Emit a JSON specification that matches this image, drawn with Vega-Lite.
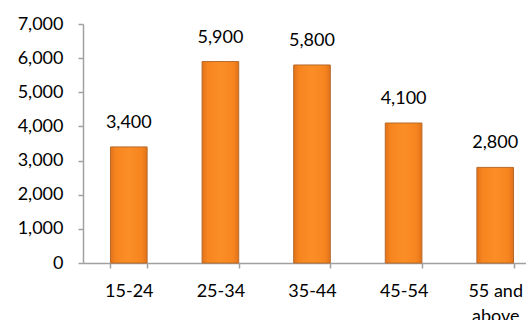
{
  "$schema": "https://vega.github.io/schema/vega-lite/v6.json",
  "width": 443,
  "height": 239,
  "autosize": {"type": "none"},
  "padding": {"left": 83, "top": 24, "right": 0, "bottom": 57},
  "background": "white",
  "config": {"view": {"stroke": null}, "font": "Lato"},
  "data": {
    "values": [
      {"age": "15-24", "value": 3400},
      {"age": "25-34", "value": 5900},
      {"age": "35-44", "value": 5800},
      {"age": "45-54", "value": 4100},
      {"age": "55 and above", "value": 2800}
    ]
  },
  "encoding": {
    "x": {
      "field": "age",
      "type": "nominal",
      "sort": null,
      "scale": {"range": [0, 458], "paddingInner": 0.6, "paddingOuter": 0.3},
      "axis": {
        "title": null,
        "labelAngle": 0,
        "labelFont": "Lato",
        "labelFontSize": 18,
        "labelColor": "#000000",
        "labelPadding": 14,
        "labelLineHeight": 25,
        "labelExpr": "datum.value == '55 and above' ? ['55 and', 'above'] : datum.value",
        "tickBand": "extent",
        "tickSize": 5,
        "tickColor": "#A0A0A0",
        "domainColor": "#A0A0A0",
        "domainWidth": 1.5,
        "tickWidth": 1.5,
        "grid": false
      }
    },
    "y": {
      "field": "value",
      "type": "quantitative",
      "scale": {"domain": [0, 7000], "nice": false},
      "axis": {
        "title": null,
        "values": [0, 1000, 2000, 3000, 4000, 5000, 6000, 7000],
        "format": ",.0f",
        "labelFont": "Lato",
        "labelFontSize": 18,
        "labelColor": "#000000",
        "labelPadding": 15,
        "tickSize": 5,
        "tickColor": "#A0A0A0",
        "domainColor": "#A0A0A0",
        "domainWidth": 1.5,
        "tickWidth": 1.5,
        "grid": false
      }
    }
  },
  "layer": [
    {
      "mark": {
        "type": "bar",
        "stroke": "#B86A2A",
        "strokeWidth": 1,
        "color": {
          "gradient": "linear",
          "x1": 0, "y1": 0, "x2": 1, "y2": 0,
          "stops": [
            {"offset": 0, "color": "#E0721A"},
            {"offset": 0.15, "color": "#F7851F"},
            {"offset": 0.5, "color": "#FB8E27"},
            {"offset": 0.85, "color": "#F7851F"},
            {"offset": 1, "color": "#E0721A"}
          ]
        }
      }
    },
    {
      "mark": {
        "type": "text",
        "font": "Lato",
        "fontSize": 18,
        "color": "#000000",
        "baseline": "alphabetic",
        "dy": -19
      },
      "encoding": {"text": {"field": "value", "type": "quantitative", "format": ",.0f"}}
    }
  ]
}
